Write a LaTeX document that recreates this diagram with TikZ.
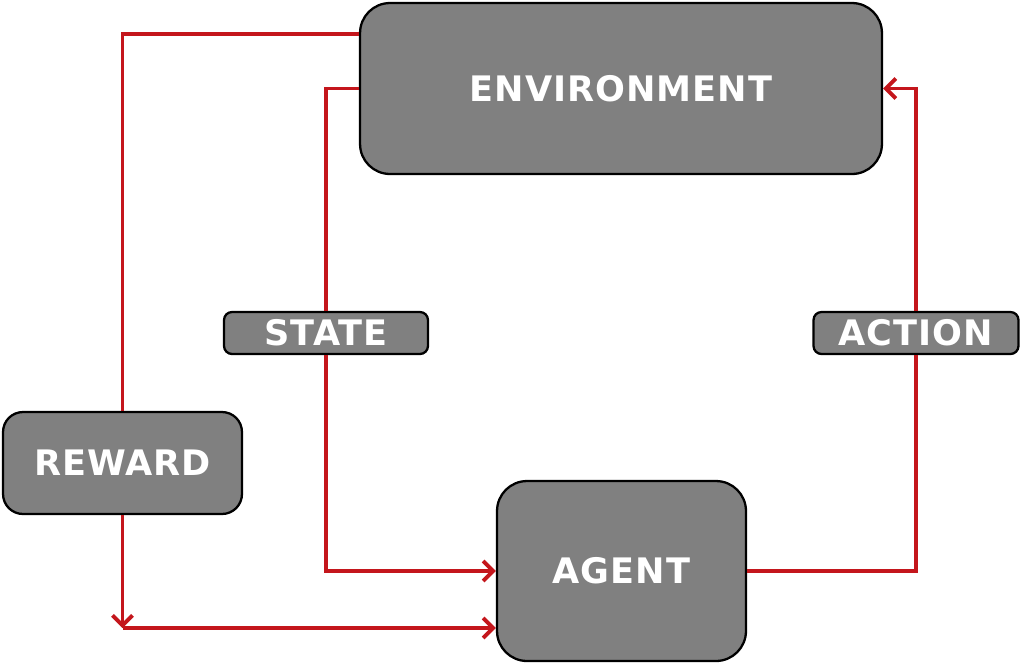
\documentclass[tikz,border=0pt]{standalone}
\usepackage{fontspec}
\setmainfont{DejaVu Sans}[LetterSpace=3]
\usetikzlibrary{arrows.meta}
\definecolor{boxgray}{HTML}{808080}
\definecolor{linkred}{HTML}{C4161C}

\begin{document}
\begin{tikzpicture}[x=0.02cm,y=-0.02cm,
	box/.style={rectangle,draw=black,line width=1.3pt,fill=boxgray,text=white,font=\fontsize{20}{22}\selectfont\bfseries,inner sep=0pt},
	tag/.style={box,rounded corners=0.16cm},
	link/.style={draw=linkred,line width=2.2pt},
	arrow/.style={link,-{Straight Barb[length=0.2cm,width=0.4cm,line width=2.2pt]}}]
\useasboundingbox (0,0) rectangle (1024,664);
\node[box,rounded corners=0.6cm,minimum width=10.44cm,minimum height=3.42cm] (env) at (621,88.5) {ENVIRONMENT};
\node[box,rounded corners=0.6cm,minimum width=4.98cm,minimum height=3.6cm] (agent) at (621.5,571) {AGENT};
\node[box,rounded corners=0.4cm,minimum width=4.78cm,minimum height=2.04cm] (reward) at (122.5,463) {REWARD};
\node[tag,minimum width=4.08cm,minimum height=0.84cm] (state) at (326,333) {STATE};
\node[tag,minimum width=4.1cm,minimum height=0.84cm] (action) at (916,333) {ACTION};
\coordinate (rtop) at (122.5,34);
\coordinate (rbot) at (122.5,628);
% reward path
\draw[link] (env.west |- rtop) -- (rtop) -- (reward.north);
\draw[arrow] (reward.south) -- (rbot);
\draw[arrow] (rbot) -- (agent.west |- rbot);
% state path
\draw[link] (env.west) -| (state.north);
\draw[arrow] (state.south) |- (agent.west);
% action path
\draw[link] (agent.east) -| (action.south);
\draw[arrow] (action.north) |- (env.east);
\end{tikzpicture}
\end{document}
